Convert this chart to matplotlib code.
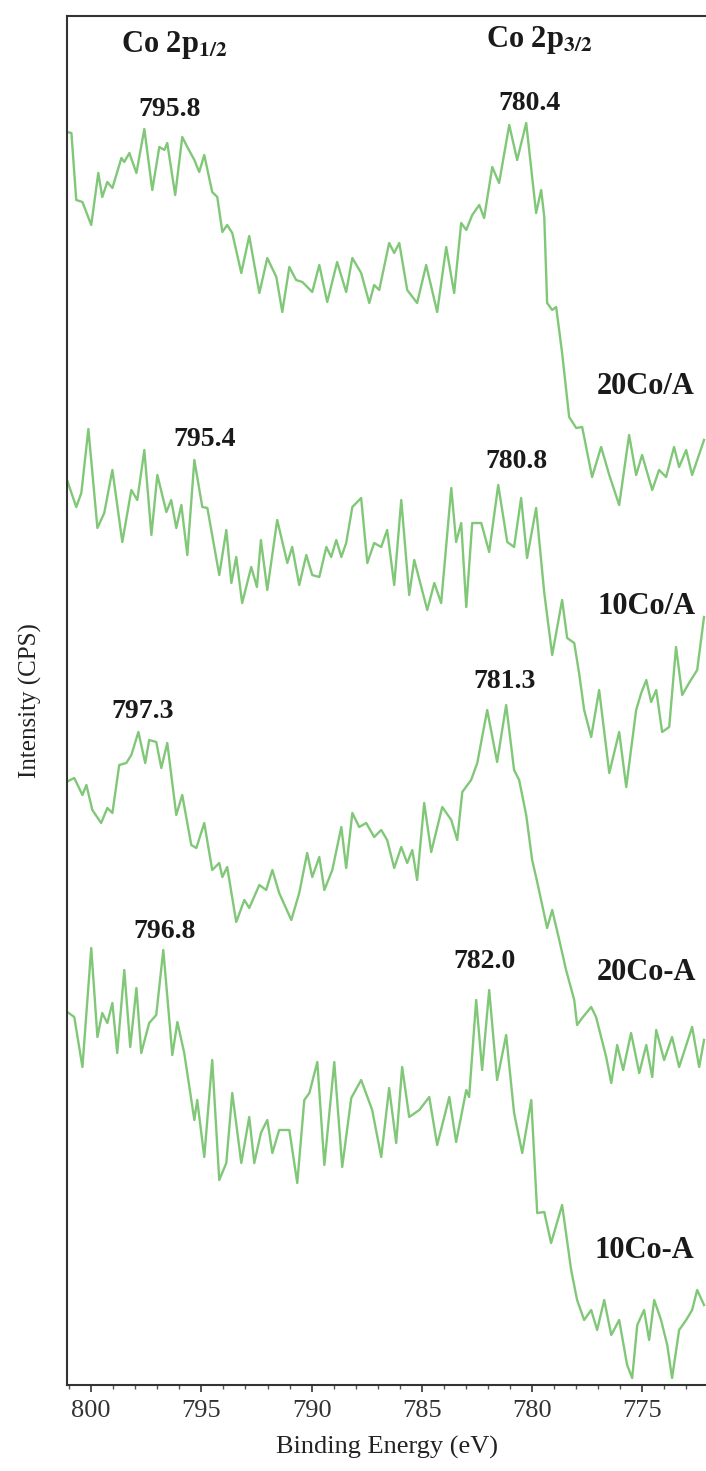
import matplotlib
matplotlib.use("Agg")
from matplotlib import pyplot as plt
from matplotlib.ticker import MultipleLocator

# binding energy (eV) and intensity (arb., stacked as in the figure)
be_20co_slash = [801.09, 800.90, 800.68, 800.40, 800.00, 799.68, 799.50, 799.27, 799.04, 798.63,
                 798.50, 798.27, 797.95, 797.59, 797.23, 796.91, 796.68, 796.55, 796.19, 795.87,
                 795.64, 795.32, 795.10, 794.87, 794.51, 794.28, 794.05, 793.83, 793.60, 793.19,
                 792.83, 792.37, 792.01, 791.60, 791.33, 791.01, 790.70, 790.42, 789.97, 789.65,
                 789.29, 788.84, 788.43, 788.15, 787.75, 787.38, 787.16, 786.93, 786.48, 786.25,
                 786.02, 785.66, 785.21, 784.80, 784.30, 783.89, 783.53, 783.21, 782.98, 782.71,
                 782.39, 782.17, 781.80, 781.49, 781.03, 780.67, 780.26, 779.81, 779.58, 779.44,
                 779.31, 779.08, 778.90, 778.63, 778.31, 777.99, 777.72, 777.27, 776.86, 776.49,
                 776.04, 775.59, 775.27, 775.00, 774.54, 774.23, 773.91, 773.55, 773.32, 773.00,
                 772.73, 772.19]
int_20co_slash = [1253, 1252, 1185, 1183, 1160, 1212, 1188, 1203, 1197, 1227,
                  1223, 1232, 1212, 1256, 1195, 1238, 1235, 1242, 1190, 1248,
                  1238, 1225, 1213, 1230, 1193, 1188, 1153, 1160, 1152, 1112,
                  1149, 1092, 1127, 1108, 1073, 1118, 1105, 1103, 1093, 1120,
                  1083, 1123, 1093, 1127, 1112, 1082, 1100, 1095, 1142, 1132,
                  1142, 1095, 1082, 1120, 1073, 1138, 1092, 1162, 1155, 1170,
                  1180, 1167, 1218, 1202, 1260, 1225, 1262, 1172, 1195, 1168,
                  1082, 1075, 1078, 1032, 968, 957, 958, 908, 938, 910,
                  880, 950, 910, 930, 895, 915, 908, 938, 918, 935,
                  910, 945]

be_10co_slash = [801.13, 800.99, 800.68, 800.45, 800.13, 799.72, 799.41, 799.04, 798.59, 798.18,
                 797.91, 797.59, 797.27, 797.00, 796.59, 796.37, 796.14, 795.91, 795.64, 795.32,
                 794.96, 794.73, 794.19, 793.87, 793.64, 793.42, 793.15, 792.74, 792.48, 792.30,
                 792.01, 791.56, 791.10, 790.88, 790.56, 790.24, 789.97, 789.65, 789.33, 789.11,
                 788.88, 788.65, 788.43, 788.15, 787.75, 787.47, 787.16, 786.84, 786.57, 786.25,
                 785.93, 785.57, 785.34, 784.75, 784.43, 784.12, 783.66, 783.44, 783.21, 782.98,
                 782.71, 782.30, 781.94, 781.53, 781.12, 780.81, 780.49, 780.22, 779.81, 779.44,
                 779.08, 778.63, 778.40, 778.08, 777.86, 777.63, 777.31, 776.95, 776.49, 776.04,
                 775.72, 775.27, 775.04, 774.81, 774.59, 774.36, 774.09, 773.77, 773.46, 773.18,
                 772.87, 772.50, 772.19]
int_10co_slash = [907, 898, 878, 892, 956, 857, 872, 915, 843, 895,
                  885, 935, 850, 910, 873, 885, 857, 880, 830, 925,
                  878, 877, 810, 855, 802, 828, 782, 818, 798, 845,
                  795, 865, 822, 838, 800, 830, 810, 808, 838, 828,
                  845, 828, 842, 878, 887, 822, 842, 838, 855, 800,
                  885, 790, 825, 775, 802, 782, 897, 843, 862, 778,
                  862, 862, 833, 900, 843, 838, 887, 827, 877, 792,
                  730, 785, 747, 742, 712, 675, 648, 695, 612, 653,
                  598, 675, 692, 705, 683, 695, 653, 658, 738, 690,
                  702, 715, 768]

be_20co_dash = [801.13, 800.77, 800.40, 800.22, 799.95, 799.55, 799.27, 799.04, 798.73, 798.41,
                798.18, 797.86, 797.55, 797.37, 797.05, 796.82, 796.55, 796.14, 795.87, 795.46,
                795.23, 794.87, 794.51, 794.19, 794.05, 793.83, 793.42, 793.05, 792.83, 792.37,
                792.06, 791.78, 791.47, 790.92, 790.56, 790.20, 789.97, 789.65, 789.42, 789.06,
                788.65, 788.43, 788.15, 787.84, 787.52, 787.16, 786.84, 786.57, 786.25, 785.93,
                785.66, 785.43, 785.21, 784.89, 784.57, 784.07, 783.66, 783.39, 783.16, 782.76,
                782.48, 782.03, 781.58, 781.17, 780.81, 780.58, 780.26, 779.99, 779.76, 779.31,
                779.08, 778.76, 778.45, 778.08, 777.95, 777.72, 777.31, 777.09, 776.86, 776.63,
                776.40, 776.13, 775.86, 775.50, 775.13, 774.81, 774.54, 774.36, 774.00, 773.64,
                773.32, 772.73, 772.41, 772.19]
int_20co_dash = [603, 607, 590, 600, 575, 562, 577, 572, 620, 622,
                 630, 653, 622, 645, 643, 617, 642, 570, 590, 540,
                 537, 562, 515, 522, 508, 518, 463, 485, 477, 500,
                 495, 515, 492, 465, 492, 532, 508, 528, 495, 515,
                 558, 517, 572, 558, 562, 548, 555, 545, 517, 538,
                 522, 535, 505, 582, 533, 578, 565, 545, 593, 605,
                 622, 675, 623, 680, 615, 605, 570, 525, 503, 457,
                 475, 445, 415, 385, 360, 367, 378, 368, 348, 328,
                 302, 340, 315, 352, 312, 340, 308, 355, 325, 348,
                 318, 358, 318, 345]

be_10co_dash = [801.09, 800.77, 800.40, 800.00, 799.72, 799.50, 799.27, 799.04, 798.82, 798.50,
                798.23, 797.95, 797.73, 797.37, 797.05, 796.73, 796.32, 796.09, 795.78, 795.32,
                795.19, 794.87, 794.51, 794.19, 793.87, 793.60, 793.19, 792.83, 792.60, 792.30,
                792.01, 791.78, 791.47, 791.01, 790.65, 790.33, 790.10, 789.74, 789.42, 788.97,
                788.61, 788.20, 787.75, 787.25, 786.84, 786.48, 786.16, 785.89, 785.57, 785.11,
                784.66, 784.30, 783.75, 783.44, 782.98, 782.85, 782.53, 782.26, 781.94, 781.58,
                781.17, 780.81, 780.44, 780.03, 779.76, 779.44, 779.13, 778.63, 778.22, 777.95,
                777.63, 777.31, 777.04, 776.72, 776.40, 776.04, 775.68, 775.45, 775.22, 774.91,
                774.68, 774.45, 774.14, 773.86, 773.64, 773.32, 773.00, 772.73, 772.50, 772.19]
int_10co_dash = [373, 368, 318, 437, 348, 372, 362, 382, 332, 415,
                 338, 397, 332, 362, 370, 435, 330, 363, 332, 265,
                 285, 228, 325, 205, 222, 292, 222, 268, 222, 252,
                 265, 232, 255, 255, 202, 285, 292, 323, 220, 323,
                 218, 287, 305, 275, 228, 297, 242, 318, 268, 275,
                 288, 240, 288, 243, 295, 288, 385, 315, 395, 305,
                 350, 272, 232, 285, 172, 173, 142, 180, 115, 85,
                 65, 75, 55, 85, 50, 65, 20, 7, 60, 75,
                 45, 85, 65, 40, 7, 55, 65, 75, 95, 80]

series = [
    (be_20co_slash, int_20co_slash),
    (be_10co_slash, int_10co_slash),
    (be_20co_dash, int_20co_dash),
    (be_10co_dash, int_10co_dash),
]

# sample names and peak labels: (text, energy, intensity)
sample_labels = [("20Co/A", 774.82, 998), ("10Co/A", 774.82, 779),
                 ("20Co-A", 774.82, 413), ("10Co-A", 774.91, 135)]
peak_labels = [("795.8", 796.46, 1275), ("780.4", 780.12, 1282),
               ("795.4", 794.87, 945), ("780.8", 780.72, 923),
               ("797.3", 797.68, 673), ("781.3", 781.26, 704),
               ("796.8", 796.69, 453), ("782.0", 782.17, 423)]

plt.rcParams['font.family'] = ['Liberation Serif', 'DejaVu Serif']
plt.rcParams['mathtext.fontset'] = 'stix'

fig = plt.figure(figsize=(7.06, 14.71), dpi=100)
ax = fig.add_axes([67 / 706, 86 / 1471, 639 / 706, 1369 / 1471])

line_color = '#80c878'
for be, inten in series:
    ax.plot(be, inten, color=line_color, lw=1.7, solid_joinstyle='round')

ax.set_xlim(801.1, 772.1)
ax.set_ylim(0, 1369)

ax.xaxis.set_major_locator(MultipleLocator(5))
ax.xaxis.set_minor_locator(MultipleLocator(1))
ax.tick_params(axis='x', which='major', direction='out', length=5, width=1.2,
               labelsize=19, colors='#333333', pad=6)
ax.tick_params(axis='x', which='minor', direction='out', length=3, width=1.0, colors='#555555')
ax.set_yticks([])
ax.spines['right'].set_visible(False)
for s in ['left', 'top', 'bottom']:
    ax.spines[s].set_linewidth(1.5)
    ax.spines[s].set_color('#333333')

ax.set_xlabel("Binding Energy (eV)", fontsize=19, color='#222222', labelpad=10)
ax.set_ylabel("Intensity (CPS)", fontsize=18, color='#222222', labelpad=18)

ax.text(796.23, 1340, r"Co 2p$_{\mathbf{1/2}}$", fontsize=22, fontweight='bold',
        ha='center', va='center', color='#1a1a1a')
ax.text(779.67, 1345, r"Co 2p$_{\mathbf{3/2}}$", fontsize=22, fontweight='bold',
        ha='center', va='center', color='#1a1a1a')

for txt, x, y in peak_labels:
    ax.text(x, y, txt, fontsize=20, fontweight='bold', ha='center', va='center', color='#1a1a1a')
for txt, x, y in sample_labels:
    ax.text(x, y, txt, fontsize=22, fontweight='bold', ha='center', va='center', color='#1a1a1a')

fig.savefig("out.png", dpi=100)
